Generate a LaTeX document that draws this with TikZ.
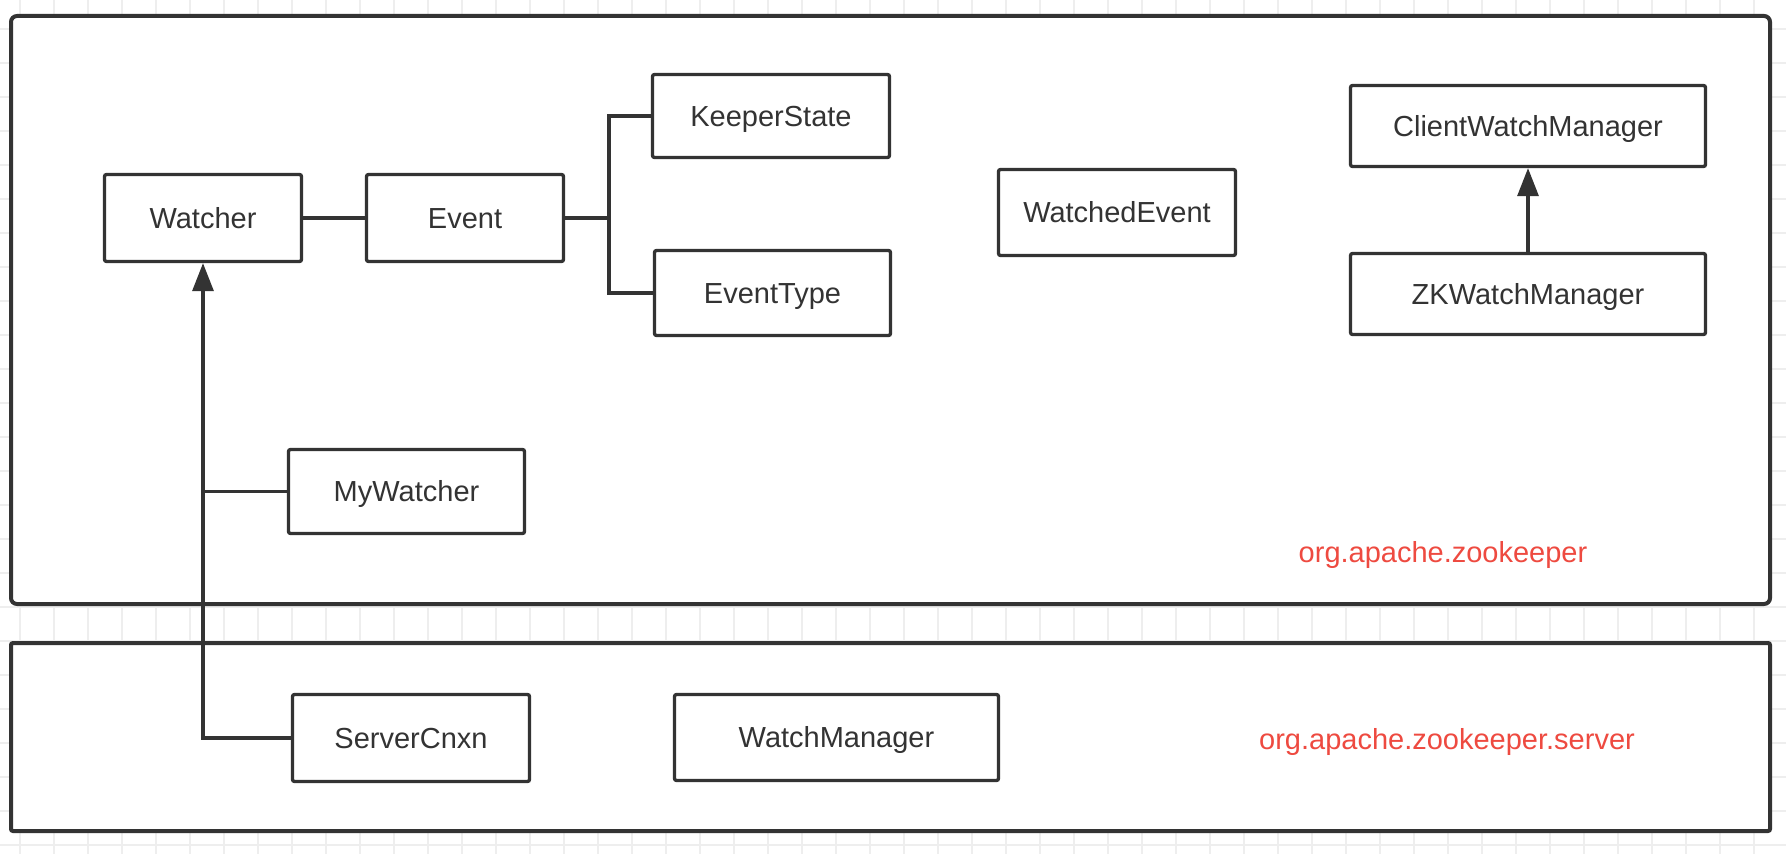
\documentclass[tikz,border=0pt]{standalone}
\usepackage{fontspec}
\setmainfont{Liberation Sans}
\usetikzlibrary{arrows.meta}
\definecolor{ink}{HTML}{333333}
\definecolor{redlbl}{HTML}{EE4A40}
\definecolor{gridc}{HTML}{EEEEEE}
\tikzset{
  cls/.style={draw=ink, line width=1.65pt, fill=white, rectangle, rounded corners=1pt,
    inner sep=0pt, text=ink, text height=10.4pt, text depth=0pt,
    font=\fontsize{14.5pt}{17pt}\selectfont},
  conn/.style={draw=ink, line width=1.6pt},
  arr/.style={conn, -{Triangle[length=14pt, width=10.5pt]}},
  pkg/.style={draw=ink, line width=2pt, fill=white},
  pkglbl/.style={text=redlbl, font=\fontsize{14.5pt}{17pt}\selectfont, inner sep=0pt, anchor=base}
}
\begin{document}
\begin{tikzpicture}[x=0.5pt, y=-0.5pt]
\useasboundingbox (0,0) rectangle (1786,854);
\fill[white] (0,0) rectangle (1786,854);
% background grid
\foreach \k in {0,...,52} {
  \draw[gridc, line width=1pt] ({20+34*\k},0) -- ({20+34*\k},854);
}
\foreach \k in {0,...,24} {
  \draw[gridc, line width=1pt] (0,{29+34*\k}) -- (1786,{29+34*\k});
}
% package containers
\draw[pkg, rounded corners=3pt] (11,16) rectangle (1770,604);
\draw[pkg, rounded corners=1pt] (11,643) rectangle (1770,831);
\node[pkglbl] (lbl1) at (1443,563) {org.apache.zookeeper};
\node[pkglbl] (lbl2) at (1447,749) {org.apache.zookeeper.server};
% classes
\node[cls, minimum width=98.5pt, minimum height=43.5pt] (w)   at (203,218)   {Watcher};
\node[cls, minimum width=98.5pt, minimum height=43.5pt] (ev)  at (465,218)   {Event};
\node[cls, minimum width=118.5pt, minimum height=41.5pt] (ks) at (771,116)   {KeeperState};
\node[cls, minimum width=118pt, minimum height=42.5pt] (et)   at (772.5,293) {EventType};
\node[cls, minimum width=118.5pt, minimum height=43pt] (we)   at (1117,212.5) {WatchedEvent};
\node[cls, minimum width=177.5pt, minimum height=40.5pt] (cwm) at (1528,126)  {ClientWatchManager};
\node[cls, minimum width=177.5pt, minimum height=40.5pt] (zk)  at (1528,294)  {ZKWatchManager};
\node[cls, minimum width=118pt, minimum height=42pt] (mw)     at (406.5,491.5) {MyWatcher};
\node[cls, minimum width=118.5pt, minimum height=43.5pt] (sc) at (411,738)   {ServerCnxn};
\node[cls, minimum width=162pt, minimum height=43pt] (wm)     at (836.5,737.5) {WatchManager};
% connectors
\draw[conn] (w.east) -- (ev.west);
\coordinate (j) at (609,218);
\draw[conn] (ev.east) -- (j);
\draw[conn] (j) |- (ks.west);
\draw[conn] (j) |- (et.west);
\draw[arr] (zk.north) -- (cwm.south);
\draw[arr] (sc.west) -| (w.south);
\draw[conn] (mw.west) -- (mw.west -| w.south);
\end{tikzpicture}
\end{document}
